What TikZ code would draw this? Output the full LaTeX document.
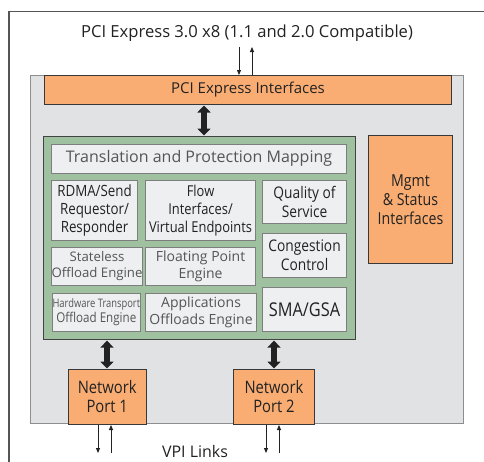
\documentclass[tikz,border=0pt]{standalone}
\usepackage{fontspec}
\setmainfont{Open Sans}
\newfontfamily\condfont[FakeStretch=0.86]{Open Sans}
\newfontfamily\tinyfont[FakeStretch=0.8]{Open Sans}
\usetikzlibrary{arrows.meta}
\definecolor{frameline}{HTML}{555555}
\definecolor{panelgray}{HTML}{E1E2E4}
\definecolor{panelline}{HTML}{8E8E8E}
\definecolor{portorange}{HTML}{F9AD73}
\definecolor{enginegreen}{HTML}{A0C1A0}
\definecolor{cellfill}{HTML}{EEEFF0}
\definecolor{cellline}{HTML}{7E7E7E}
\definecolor{darktext}{HTML}{222222}
\definecolor{softtext}{HTML}{555555}
\tikzset{
  orangebox/.style={draw=darktext!90, line width=1pt, fill=portorange, inner sep=0pt, anchor=north west, align=center, text=darktext},
  cellbox/.style={draw=cellline, line width=1.1pt, fill=cellfill, inner sep=0pt, anchor=north west, align=center},
  darkcell/.style={cellbox, text=darktext, font=\condfont\fontsize{15.5}{17.7}\selectfont},
  softcell/.style={cellbox, text=softtext, font=\fontsize{14}{16.5}\selectfont},
  busarrow/.style={line width=5.5pt, draw=darktext, {Triangle[length=7pt,width=13pt]}-{Triangle[length=7pt,width=13pt]}, shorten <=0.5pt, shorten >=0.5pt},
  linkarrow/.style={line width=0.8pt, draw=darktext, -{Triangle[length=5pt,width=4pt]}},
}
\begin{document}
\begin{tikzpicture}[x=1pt,y=-1pt]
\useasboundingbox (0,0) rectangle (484,461);
\clip (0,0) rectangle (484,461);

% outer board outline (open towards the right and bottom)
\draw[frameline, line width=1.7pt] (8.7,470) -- (8.7,11.5) -- (490,11.5);

% title
\node[text=darktext, font=\fontsize{16.6}{20}\selectfont, anchor=center] (title) at (247,33) {PCI Express 3.0 x8 (1.1 and 2.0 Compatible)};

% adapter panel
\node[draw=panelline, line width=1.2pt, fill=panelgray, inner sep=0pt, anchor=north west,
      minimum width=433pt, minimum height=348pt] (panel) at (30,75) {};

% PCI Express interface bar
\node[orangebox, minimum width=407pt, minimum height=29pt, font=\fontsize{15}{18}\selectfont] (pci) at (44,75) {PCI Express Interfaces};

% management block
\node[orangebox, minimum width=84pt, minimum height=128pt, font=\condfont\fontsize{16.5}{19}\selectfont] (mgmt) at (368,135) {Mgmt\\\& Status\\Interfaces};

% engine block
\node[draw=darktext!85, line width=1.1pt, fill=enginegreen, inner sep=0pt, anchor=north west,
      minimum width=312pt, minimum height=203pt] (engine) at (43,136) {};

\node[cellbox, minimum width=295pt, minimum height=28.5pt, text=softtext, font=\fontsize{16}{19}\selectfont] (tpm) at (51,144) {Translation and Protection Mapping};

\node[darkcell, minimum width=86pt, minimum height=60pt] (rdma) at (51,180) {RDMA/Send\\Requestor/\\Responder};
\node[darkcell, minimum width=110pt, minimum height=60pt, font=\condfont\fontsize{15}{17.7}\selectfont] (flow) at (145,180) {Flow\\Interfaces/\\Virtual Endpoints};
\node[darkcell, minimum width=84pt, minimum height=43pt, font=\condfont\fontsize{16}{19}\selectfont] (qos) at (262,180) {Quality of\\Service};

\node[softcell, minimum width=86pt, minimum height=37.5pt, font=\fontsize{13.2}{16}\selectfont] (stateless) at (51,247) {Stateless\\Offload Engine};
\node[softcell, minimum width=110pt, minimum height=37.5pt] (fpe) at (145,247) {Floating Point\\Engine};
\node[darkcell, minimum width=84pt, minimum height=43.5pt, font=\condfont\fontsize{16}{19}\selectfont] (cong) at (262,233) {Congestion\\Control};

\node[cellbox, minimum width=86pt, minimum height=37.5pt, text=softtext] (hwt) at (52,293)
  {{\tinyfont\fontsize{11.7}{12}\selectfont Hardware Transport}\\[1pt]{\condfont\fontsize{13.5}{16}\selectfont Offload Engine}};
\node[softcell, minimum width=111pt, minimum height=37.5pt] (apps) at (145,293) {Applications\\Offloads Engine};
\node[darkcell, minimum width=84pt, minimum height=43.5pt, font=\condfont\fontsize{19}{22}\selectfont] (sma) at (262,287) {SMA/GSA};

% network ports
\node[orangebox, minimum width=77.5pt, minimum height=55pt, font=\condfont\fontsize{17.2}{19}\selectfont] (port1) at (68,369) {Network\\Port 1};
\node[orangebox, minimum width=81pt, minimum height=55pt, font=\condfont\fontsize{17.2}{19}\selectfont] (port2) at (233,369) {Network\\Port 2};

\node[text=darktext, font=\fontsize{16}{19}\selectfont, anchor=base, inner sep=0pt] (vpi) at (195,457.5) {VPI Links};

% internal buses
\coordinate (busA) at (204,0);
\coordinate (busB) at (107,0);
\coordinate (busC) at (274,0);
\draw[busarrow] (busA |- pci.south) -- (busA |- engine.north);
\draw[busarrow] (busB |- engine.south) -- (busB |- port1.north);
\draw[busarrow] (busC |- engine.south) -- (busC |- port2.north);

% host link
\coordinate (hostIn) at (239,47);
\coordinate (hostOut) at (252,47);
\draw[linkarrow] (hostIn) -- (hostIn |- pci.north);
\draw[linkarrow] (hostOut |- pci.north) -- (hostOut);

% network links
\coordinate (p1In) at (98,453);
\coordinate (p1Out) at (111,453);
\coordinate (p2In) at (266,453);
\coordinate (p2Out) at (279,453);
\draw[linkarrow] (p1In |- port1.south) -- (p1In);
\draw[linkarrow] (p1Out) -- (p1Out |- port1.south);
\draw[linkarrow] (p2In |- port2.south) -- (p2In);
\draw[linkarrow] (p2Out) -- (p2Out |- port2.south);
\end{tikzpicture}
\end{document}
